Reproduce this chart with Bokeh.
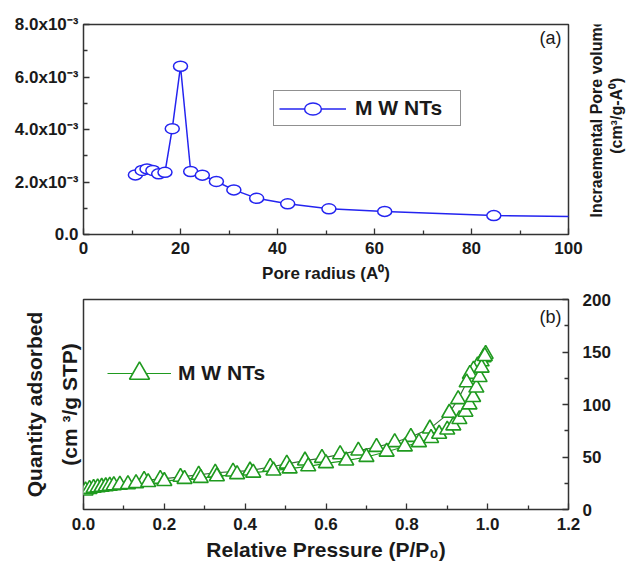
import numpy as np
from bokeh.plotting import figure
from bokeh.models import (FixedTicker, Range1d, Label, Legend, LegendItem,
                          NumeralTickFormatter, LinearAxis)
from bokeh.layouts import column, row
from bokeh.embed import file_html
from bokeh.resources import INLINE

FONT = "Liberation Sans"

# ---------------- data: panel (a) ----------------
pore_radius = [10.7, 12.1, 13.1, 14.3, 15.5, 16.8, 18.3, 20.0, 22.1, 24.5,
               27.4, 31.0, 35.7, 42.1, 50.6, 62.1, 84.6, 115.0]
pore_volume = [2.27e-3, 2.44e-3, 2.50e-3, 2.44e-3, 2.31e-3, 2.37e-3, 4.03e-3,
               6.41e-3, 2.40e-3, 2.26e-3, 2.02e-3, 1.70e-3, 1.38e-3, 1.17e-3,
               0.98e-3, 0.88e-3, 0.72e-3, 0.66e-3]

top_x_ticks = [0, 20, 40, 60, 80, 100]
top_x_minor = [10, 30, 50, 70, 90]
top_y_ticks = [0.0, 0.002, 0.004, 0.006, 0.008]
top_y_minor = [0.001, 0.003, 0.005, 0.007]
top_y_labels = ["0.0", "2.0x10\u207b\u00b3", "4.0x10\u207b\u00b3",
                "6.0x10\u207b\u00b3", "8.0x10\u207b\u00b3"]

# ---------------- data: panel (b) ----------------
p_ads = [0.005, 0.015, 0.025, 0.035, 0.045, 0.055, 0.065, 0.075, 0.09, 0.11,
         0.13, 0.16, 0.20, 0.25, 0.29, 0.33, 0.38, 0.42, 0.47, 0.51, 0.556,
         0.60, 0.65, 0.70, 0.75, 0.795, 0.83, 0.86, 0.88, 0.90, 0.915, 0.93,
         0.945, 0.955, 0.964, 0.972, 0.98, 0.985, 0.993]
q_ads = [18, 19.5, 20.5, 21, 21.5, 22, 22.5, 23, 23.5, 24,
         25, 26, 27, 29, 30, 31.5, 33.5, 35, 37, 39, 41,
         44, 46.5, 50, 55, 60, 64, 68, 72, 76, 80, 86,
         93, 100, 107, 116, 126, 135, 146]
p_des = [0.995, 0.99, 0.985, 0.975, 0.965, 0.956, 0.948, 0.927, 0.905, 0.857,
         0.81, 0.77, 0.725, 0.68, 0.635, 0.59, 0.548, 0.503, 0.462, 0.412,
         0.37, 0.326, 0.285, 0.24, 0.19, 0.15]
q_des = [148, 145, 141, 137, 133, 129, 121, 105, 92, 77,
         69, 64, 59.5, 56, 52.5, 49, 46.5, 43.5, 40.5, 37,
         36, 35, 33, 31, 29, 28]

bot_x_ticks = [0.0, 0.2, 0.4, 0.6, 0.8, 1.0, 1.2]
bot_x_minor = [0.1, 0.3, 0.5, 0.7, 0.9, 1.1]
bot_y_ticks = [0, 50, 100, 150, 200]
bot_y_minor = [25, 75, 125, 175]

BLUE = "#2424f0"
GREEN = "#1f9a1f"
INK = "#1a1a1a"


def style_axis(ax, size="17px"):
    ax.axis_line_color = None
    ax.major_tick_in = 6
    ax.major_tick_out = 0
    ax.minor_tick_in = 4
    ax.minor_tick_out = 0
    ax.major_tick_line_color = "#333333"
    ax.minor_tick_line_color = "#333333"
    ax.major_tick_line_width = 1.3
    ax.minor_tick_line_width = 1.3
    ax.major_label_text_font = FONT
    ax.major_label_text_font_size = size
    ax.major_label_text_font_style = "bold"
    ax.major_label_text_color = INK
    ax.axis_label_text_font = FONT
    ax.axis_label_text_font_style = "bold"
    ax.axis_label_text_color = INK


def label_axis(text, size, standoff):
    """An axis that carries only a title line (no ticks, no tick labels)."""
    ax = LinearAxis(ticker=FixedTicker(ticks=[], minor_ticks=[]),
                    axis_label=text)
    ax.axis_line_color = None
    ax.major_tick_in = 0
    ax.major_tick_out = 0
    ax.minor_tick_in = 0
    ax.minor_tick_out = 0
    ax.major_label_standoff = 0
    ax.major_label_text_font_size = "0px"
    ax.axis_label_standoff = standoff
    ax.axis_label_text_font = FONT
    ax.axis_label_text_font_size = size
    ax.axis_label_text_font_style = "bold"
    ax.axis_label_text_color = INK
    return ax


# ---------------- panel (a) ----------------
p1 = figure(width=585, height=290, x_range=Range1d(0, 100),
            y_range=Range1d(0, 0.008), output_backend="svg",
            toolbar_location=None, min_border_left=83, min_border_right=17,
            min_border_top=24, min_border_bottom=56)
p1.grid.visible = False
p1.outline_line_color = "#333333"
p1.outline_line_width = 1.5
p1.background_fill_color = "white"
p1.border_fill_color = "white"

xa = p1.xaxis[0]
style_axis(xa)
xa.ticker = FixedTicker(ticks=top_x_ticks, minor_ticks=top_x_minor)
xa.major_label_standoff = 7
xa.axis_label = "Pore radius (A\u2070)"
xa.axis_label_text_font_size = "17px"
xa.axis_label_standoff = 7

ya = p1.yaxis[0]
style_axis(ya)
ya.ticker = FixedTicker(ticks=top_y_ticks, minor_ticks=top_y_minor)
ya.major_label_overrides = {t: l for t, l in zip(top_y_ticks, top_y_labels)}
ya.major_label_standoff = 5

l1 = p1.line(pore_radius, pore_volume, line_color=BLUE, line_width=1.5)
e1 = p1.ellipse(pore_radius, pore_volume, width=14, height=10,
                width_units="screen", height_units="screen",
                line_color=BLUE, line_width=1.5, fill_color="white")

leg1 = Legend(items=[LegendItem(label="M W NTs", renderers=[l1, e1])],
              location=(190, 108), border_line_color="#222222",
              border_line_width=1.5, padding=5, glyph_width=67,
              glyph_height=21, label_standoff=9, label_width=100, spacing=0,
              label_text_font=FONT, label_text_font_size="21px",
              label_text_font_style="bold", label_text_color=INK,
              background_fill_color="white", background_fill_alpha=1)
p1.add_layout(leg1)

p1.add_layout(Label(x=478, y=207, x_units="screen", y_units="screen",
                    text="(a)", text_align="right", text_baseline="top",
                    text_font=FONT, text_font_size="18px", text_color=INK))

# right-hand title strip of panel (a), read from bottom to top
side = figure(width=42, height=290, x_range=Range1d(0, 42),
              y_range=Range1d(0, 290), output_backend="svg",
              toolbar_location=None, x_axis_type=None, y_axis_type=None,
              min_border_left=0, min_border_right=0, min_border_top=0,
              min_border_bottom=0)
side.grid.visible = False
side.outline_line_color = None
side.background_fill_color = "white"
side.border_fill_color = "white"
side.add_layout(Label(x=11, y=161, text="Incraemental Pore volume",
                      angle=np.pi / 2, text_align="center",
                      text_baseline="middle", text_font=FONT,
                      text_font_size="16px", text_font_style="bold",
                      text_color=INK))
side.add_layout(Label(x=31, y=164, text="(cm\u00b3/g-A\u2070)",
                      angle=np.pi / 2, text_align="center",
                      text_baseline="middle", text_font=FONT,
                      text_font_size="16px", text_font_style="bold",
                      text_color=INK))

# ---------------- panel (b) ----------------
p2 = figure(width=627, height=274, x_range=Range1d(0, 1.2),
            y_range=Range1d(0, 200), output_backend="svg",
            toolbar_location=None, y_axis_location="right",
            min_border_left=83, min_border_right=59,
            min_border_top=9, min_border_bottom=55)
p2.grid.visible = False
p2.outline_line_color = "#333333"
p2.outline_line_width = 1.5
p2.background_fill_color = "white"
p2.border_fill_color = "white"

xb = p2.xaxis[0]
style_axis(xb)
xb.ticker = FixedTicker(ticks=bot_x_ticks, minor_ticks=bot_x_minor)
xb.formatter = NumeralTickFormatter(format="0.0")
xb.major_label_standoff = 8
xb.axis_label = "Relative Pressure (P/P\u2080)"
xb.axis_label_text_font_size = "21px"
xb.axis_label_standoff = 5

yb = p2.yaxis[0]
style_axis(yb)
yb.ticker = FixedTicker(ticks=bot_y_ticks, minor_ticks=bot_y_minor)
yb.major_label_standoff = 14

p2.add_layout(label_axis("(cm \u00b3/g STP)", "21px", 3), "left")
p2.add_layout(label_axis("Quantity adsorbed", "21px", 9), "left")

l2a = p2.line(p_ads, q_ads, line_color=GREEN, line_width=1.2)
l2d = p2.line(p_des, q_des, line_color="#3a6e3a", line_width=1.2)
t2d = p2.scatter(p_des, q_des, marker="triangle", size=15, line_color=GREEN,
                 line_width=1.6, fill_color="white")
t2a = p2.scatter(p_ads, q_ads, marker="triangle", size=15, line_color=GREEN,
                 line_width=1.6, fill_color="white")

leg2 = Legend(items=[LegendItem(label="M W NTs", renderers=[l2a, t2a])],
              location=(24, 111), border_line_color=None, padding=0,
              glyph_width=64, glyph_height=50, label_standoff=7, spacing=0,
              label_text_font=FONT, label_text_font_size="21px",
              label_text_font_style="bold", label_text_color=INK,
              background_fill_alpha=0)
p2.add_layout(leg2)

p2.add_layout(Label(x=478, y=203, x_units="screen", y_units="screen",
                    text="(b)", text_align="right", text_baseline="top",
                    text_font=FONT, text_font_size="18px", text_color=INK))

layout = column(row(p1, side), p2)
open("out.html", "w").write(file_html(layout, INLINE))
